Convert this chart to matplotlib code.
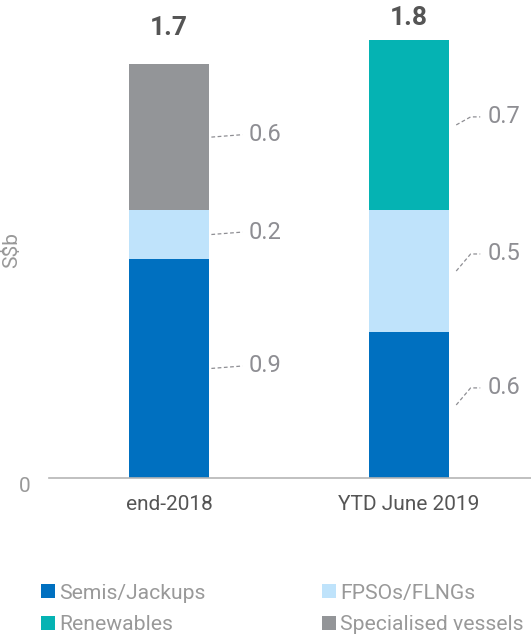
import matplotlib.pyplot as plt
from matplotlib.transforms import ScaledTranslation

plt.rcParams['font.family'] = ['Roboto', 'DejaVu Sans']

# Données
categories = ['end-2018', 'YTD June 2019']
series = ['Semis/Jackups', 'FPSOs/FLNGs', 'Renewables', 'Specialised vessels']
values = {
    'Semis/Jackups': [0.9, 0.6],
    'FPSOs/FLNGs': [0.2, 0.5],
    'Renewables': [0.0, 0.7],
    'Specialised vessels': [0.6, 0.0],
}
totals = [1.7, 1.8]
colors = {
    'Semis/Jackups': '#0070C0',
    'FPSOs/FLNGs': '#BFE3FB',
    'Renewables': '#05B3B3',
    'Specialised vessels': '#939598',
}

W, H = 531, 635
fig = plt.figure(figsize=(W / 100, H / 100), dpi=100)
ax = fig.add_axes([49 / W, (H - 478) / H, (531 - 49) / W, 458 / H])

x = range(len(categories))
bar_width = 0.333
bottoms = [0.0, 0.0]
bars = {}
for s in series:
    bars[s] = ax.bar(x, values[s], bottom=bottoms, width=bar_width, color=colors[s], label=s)
    # étiquettes avec lignes pointillées
    for i in x:
        v = values[s][i]
        if v == 0:
            continue
        mid = bottoms[i] + v / 2
        xr = i + bar_width / 2
        if i == 0:
            ty = mid + 0.01
            ax.plot([xr + 0.01, xr + 0.14], [mid, ty], ls=(0, (3, 2)), color='#8e8e93', lw=0.9)
            ax.text(xr + 0.165, ty, f"{v:.1f}", va='center', ha='left', fontsize=17, color='#8e8e93')
        else:
            ty = mid + 0.033 if v > 0.65 else mid + 0.07
            ax.plot([xr + 0.03, xr + 0.09, xr + 0.13], [mid, ty, ty], ls=(0, (3, 2)), color='#8e8e93', lw=0.9)
            ax.text(xr + 0.16, ty, f"{v:.1f}", va='center', ha='left', fontsize=17, color='#8e8e93')
        bottoms[i] += v

# totaux au-dessus des barres
total_gap = [17, 7]
for i in x:
    ax.annotate(f"{totals[i]:.1f}", (i, totals[i]), xytext=(0, total_gap[i]),
                textcoords='offset points', ha='center', va='bottom',
                fontsize=19, fontweight='bold', color='#555555')

ax.set_xlim(-0.5, 1.508)
ax.set_ylim(0, 458 / 243.5)
ax.set_xticks(list(x))
ax.set_xticklabels(categories, fontsize=15, color='#555555')
ax.set_yticks([0])
ax.set_yticklabels(['0'], fontsize=15, color='#999999')
ax.tick_params(axis='both', length=0)
ax.tick_params(axis='x', pad=12)
ax.tick_params(axis='y', pad=13)
for lbl in ax.get_yticklabels():
    lbl.set_transform(lbl.get_transform() + ScaledTranslation(0, -0.06, fig.dpi_scale_trans))
for sp in ['top', 'right', 'left']:
    ax.spines[sp].set_visible(False)
ax.spines['bottom'].set_color('#b5b5b5')
ax.spines['bottom'].set_linewidth(1.2)

fig.text(12 / W, 1 - 250 / H, 'S$b', rotation=90, ha='center', va='center',
         fontsize=15, color='#999999')

order = ['Semis/Jackups', 'Renewables', 'FPSOs/FLNGs', 'Specialised vessels']
fig.legend([bars[s] for s in order], order, ncol=2, loc='lower left',
           bbox_to_anchor=(22 / W, -0.029), frameon=False, fontsize=15.2,
           handlelength=0.65, handleheight=0.65, handletextpad=0.2,
           columnspacing=5.55, labelspacing=0.6, labelcolor='#999999')

plt.savefig('out.png', dpi=100)
plt.close()
